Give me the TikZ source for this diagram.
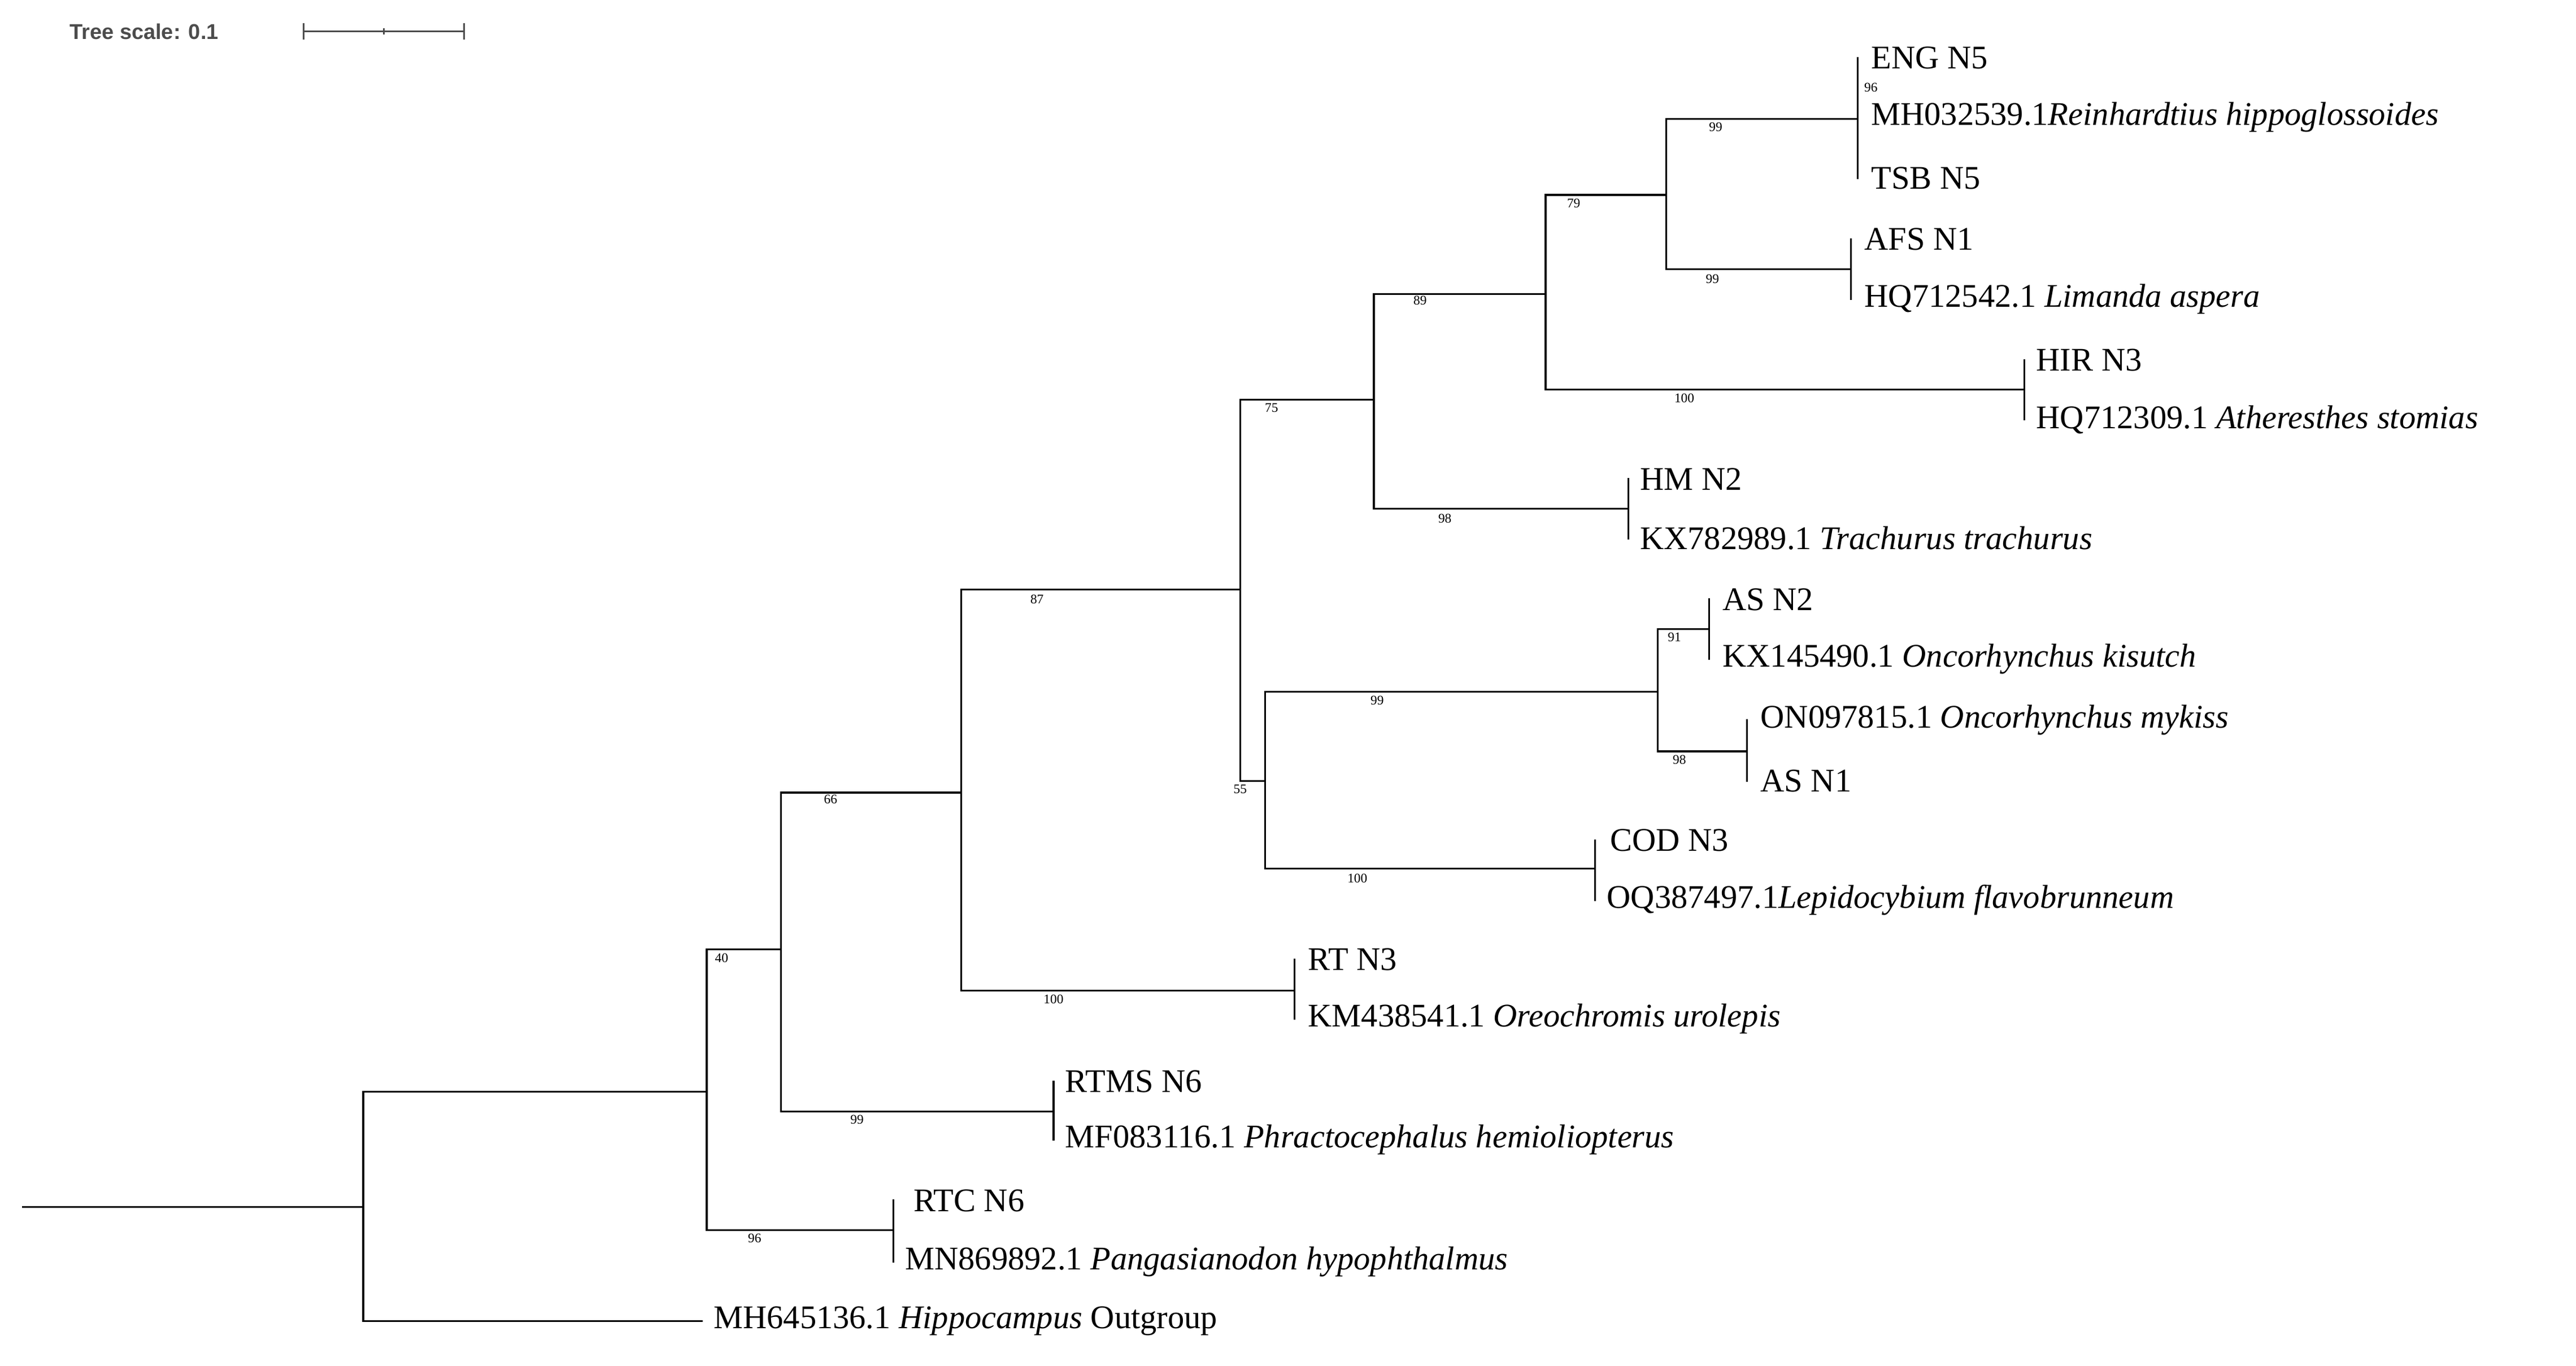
\documentclass[tikz,border=0pt]{standalone}
\usepackage{fontspec}
\setmainfont{Liberation Serif}
\newfontfamily\scalefont{Liberation Sans}
\begin{document}
\begin{tikzpicture}[x=1pt,y=-1pt,
  br/.style={line width=1.1pt,line cap=rect},
  tip/.style={anchor=west,inner sep=0pt,font=\fontsize{20}{22}\selectfont},
  bs/.style={anchor=center,inner sep=0pt,font=\fontsize{8}{9}\selectfont}]
\useasboundingbox (0,0) rectangle (1560,827);
% scale
\node[anchor=west,inner sep=0pt,text=black!70,font=\scalefont\bfseries\fontsize{13}{15}\selectfont] (ts) at (42,19) {Tree scale: 0.1};
\coordinate (s1) at (184,19); \coordinate (s2) at (281,19);
\draw[black!70,line width=1pt] (s1) -- (s2);
\draw[black!70,line width=1pt] (184,14) -- (184,24) (281,14) -- (281,24) (232.5,17) -- (232.5,21);
% internal coordinates
\coordinate (root) at (14,731);
\coordinate (n0) at (220,731);
\coordinate (n40) at (428,661);
\coordinate (n66) at (473,575);
\coordinate (n87) at (582,480);
\coordinate (n55) at (751,357);
\coordinate (n99b) at (766,473);
\coordinate (n9198) at (1004,419);
\coordinate (n75) at (832,242);
\coordinate (n89) at (936,178);
\coordinate (n79) at (1009,118);
% branches
\draw[br] (root) -- (n0);
\draw[br] (220,661) -- (220,800);
\draw[br] (220,800) -- (425,800);
\draw[br] (220,661) -- (428,661);
\draw[br] (428,575) -- (428,745);
\draw[br] (428,745) -- (541,745); \draw[br] (541,727) -- (541,764);
\draw[br] (428,575) -- (473,575);
\draw[br] (473,480) -- (473,673);
\draw[br] (473,673) -- (638,673); \draw[br] (638,655) -- (638,690);
\draw[br] (473,480) -- (582,480);
\draw[br] (582,357) -- (582,600);
\draw[br] (582,600) -- (784,600); \draw[br] (784,581) -- (784,617);
\draw[br] (582,357) -- (751,357);
\draw[br] (751,242) -- (751,473);
\draw[br] (751,473) -- (766,473);
\draw[br] (766,419) -- (766,526);
\draw[br] (766,419) -- (1004,419);
\draw[br] (1004,381) -- (1004,455);
\draw[br] (1004,381) -- (1035,381); \draw[br] (1035,363) -- (1035,399);
\draw[br] (1004,455) -- (1058,455); \draw[br] (1058,436) -- (1058,473);
\draw[br] (766,526) -- (966,526); \draw[br] (966,509) -- (966,545);
\draw[br] (751,242) -- (832,242);
\draw[br] (832,178) -- (832,308);
\draw[br] (832,308) -- (986,308); \draw[br] (986,290) -- (986,326);
\draw[br] (832,178) -- (936,178);
\draw[br] (936,118) -- (936,236);
\draw[br] (936,236) -- (1226,236); \draw[br] (1226,218) -- (1226,254);
\draw[br] (936,118) -- (1009,118);
\draw[br] (1009,72) -- (1009,163);
\draw[br] (1009,163) -- (1121,163); \draw[br] (1121,145) -- (1121,181);
\draw[br] (1009,72) -- (1125,72); \draw[br] (1125,35) -- (1125,108);
% bootstrap
\node[bs] (b40) at (437,580) {40};
\node[bs] (b96a) at (457,750) {96};
\node[bs] (b66) at (503,484) {66};
\node[bs] (b99a) at (519,678) {99};
\node[bs] (b87) at (628,363) {87};
\node[bs] (b100a) at (638,605) {100};
\node[bs] (b75) at (770,247) {75};
\node[bs] (b55) at (751,478) {55};
\node[bs] (b99b) at (834,424) {99};
\node[bs] (b91) at (1014,386) {91};
\node[bs] (b98a) at (1017,460) {98};
\node[bs] (b100b) at (822,532) {100};
\node[bs] (b98b) at (875,314) {98};
\node[bs] (b89) at (860,182) {89};
\node[bs] (b100c) at (1020,241) {100};
\node[bs] (b79) at (953,123) {79};
\node[bs] (b99c) at (1037,169) {99};
\node[bs] (b99d) at (1039,77) {99};
\node[bs] (b96b) at (1133,53) {96};
% tips
\node[tip] (t1) at (1133,35) {ENG N5};
\node[tip] (t2) at (1133,71) {MH032539.1\textit{Reinhardtius hippoglossoides}};
\node[tip] (t3) at (1133,108) {TSB N5};
\node[tip] (t4) at (1129,145) {AFS N1};
\node[tip] (t5) at (1129,181) {HQ712542.1 \textit{Limanda aspera}};
\node[tip] (t6) at (1233,218) {HIR N3};
\node[tip] (t7) at (1233,254) {HQ712309.1 \textit{Atheresthes stomias}};
\node[tip] (t8) at (993,290) {HM N2};
\node[tip] (t9) at (993,326) {KX782989.1 \textit{Trachurus trachurus}};
\node[tip] (t10) at (1043,363) {AS N2};
\node[tip] (t11) at (1043,399) {KX145490.1 \textit{Oncorhynchus kisutch}};
\node[tip] (t12) at (1066,436) {ON097815.1 \textit{Oncorhynchus mykiss}};
\node[tip] (t13) at (1066,473) {AS N1};
\node[tip] (t14) at (975,509) {COD N3};
\node[tip] (t15) at (973,545) {OQ387497.1\textit{Lepidocybium flavobrunneum}};
\node[tip] (t16) at (792,581) {RT N3};
\node[tip] (t17) at (792,617) {KM438541.1 \textit{Oreochromis urolepis}};
\node[tip] (t18) at (645,655) {RTMS N6};
\node[tip] (t19) at (645,690) {MF083116.1 \textit{Phractocephalus hemioliopterus}};
\node[tip] (t20) at (553,727) {RTC N6};
\node[tip] (t21) at (548,764) {MN869892.1 \textit{Pangasianodon hypophthalmus}};
\node[tip] (t22) at (432,800) {MH645136.1 \textit{Hippocampus} Outgroup};
\end{tikzpicture}
\end{document}
